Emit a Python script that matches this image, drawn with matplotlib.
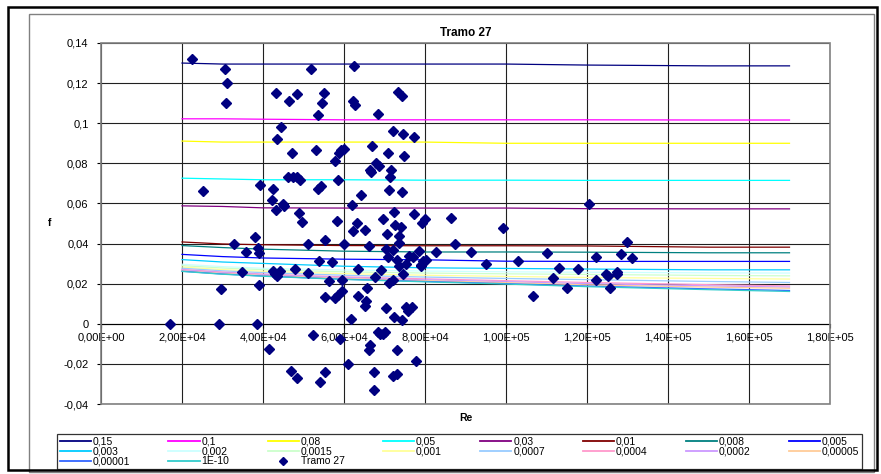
import matplotlib
matplotlib.use("Agg")
import matplotlib.pyplot as plt
from matplotlib.patches import Rectangle

plt.rcParams['font.family'] = ['Liberation Sans', 'DejaVu Sans']

# Reynolds numbers where the friction curves were sampled
re_grid = [20000, 30000, 40000, 60000, 80000, 100000, 120000, 150000, 170000]

# friction factor curves, one per relative roughness
roughness = ['0,15', '0,1', '0,08', '0,05', '0,03', '0,01', '0,008', '0,005',
             '0,003', '0,002', '0,0015', '0,001', '0,0007', '0,0004', '0,0002',
             '0,00005', '0,00001', '1E-10']
f_015 = [0.1300, 0.1295, 0.1295, 0.1295, 0.1295, 0.1295, 0.1290, 0.1286, 0.1286]
f_01 = [0.1022, 0.1022, 0.1020, 0.1017, 0.1017, 0.1017, 0.1017, 0.1016, 0.1016]
f_008 = [0.0911, 0.0906, 0.0906, 0.0906, 0.0906, 0.0900, 0.0900, 0.0900, 0.0900]
f_005 = [0.0726, 0.0722, 0.0718, 0.0718, 0.0716, 0.0716, 0.0715, 0.0715, 0.0715]
f_003 = [0.0588, 0.0585, 0.0578, 0.0577, 0.0577, 0.0577, 0.0574, 0.0573, 0.0573]
f_001 = [0.0408, 0.0398, 0.0394, 0.0390, 0.0389, 0.0389, 0.0388, 0.0382, 0.0382]
f_0008 = [0.0390, 0.0380, 0.0372, 0.0362, 0.0358, 0.0358, 0.0357, 0.0354, 0.0354]
f_0005 = [0.0346, 0.0335, 0.0328, 0.0322, 0.0319, 0.0312, 0.0311, 0.0311, 0.0311]
f_0003 = [0.0320, 0.0308, 0.0301, 0.0287, 0.0279, 0.0276, 0.0273, 0.0269, 0.0269]
f_0002 = [0.0297, 0.0285, 0.0277, 0.0268, 0.0263, 0.0259, 0.0257, 0.0254, 0.0253]
f_00015 = [0.0290, 0.0278, 0.0270, 0.0259, 0.0253, 0.0249, 0.0246, 0.0241, 0.0239]
f_0001 = [0.0283, 0.0270, 0.0262, 0.0250, 0.0242, 0.0236, 0.0231, 0.0226, 0.0223]
f_00007 = [0.0277, 0.0264, 0.0255, 0.0242, 0.0233, 0.0226, 0.0220, 0.0211, 0.0206]
f_00004 = [0.0271, 0.0258, 0.0248, 0.0234, 0.0224, 0.0215, 0.0206, 0.0195, 0.0189]
f_00002 = [0.0268, 0.0255, 0.0245, 0.0230, 0.0219, 0.0210, 0.0200, 0.0189, 0.0183]
f_000005 = [0.0264, 0.0251, 0.0241, 0.0226, 0.0215, 0.0205, 0.0194, 0.0183, 0.0177]
f_000001 = [0.0262, 0.0248, 0.0238, 0.0222, 0.0211, 0.0200, 0.0188, 0.0174, 0.0166]
f_smooth = [0.0261, 0.0247, 0.0237, 0.0221, 0.0209, 0.0198, 0.0185, 0.0170, 0.0161]

curves = [f_015, f_01, f_008, f_005, f_003, f_001, f_0008, f_0005, f_0003,
          f_0002, f_00015, f_0001, f_00007, f_00004, f_00002, f_000005,
          f_000001, f_smooth]
colors = ['#000080', '#FF00FF', '#FFFF00', '#00FFFF', '#800080', '#800000',
          '#008080', '#0000FF', '#00CCFF', '#CCFFFF', '#CCFFCC', '#FFFF99',
          '#99CCFF', '#FF99CC', '#CC99FF', '#FFCC99', '#3366FF', '#33CCCC']

# measured points of Tramo 27 (Re, f)
tramo_re = [17100, 22500, 25200, 29200, 29700, 30700, 31000, 30800, 32800, 34800,
            35700, 38100, 38500, 38700, 38900, 39000, 39200, 41500, 42300, 42400,
            42500, 43000, 43100, 43300, 43500, 43500, 44100, 44400, 44900, 45300,
            46100, 46500, 47000, 47100, 47400, 48000, 48500, 48500, 48500, 48900,
            49100, 49700, 51200, 51200, 51800, 52300, 53100, 53500, 53500, 53900,
            54100, 54300, 54600, 55100, 55200, 55400, 55400, 56200, 57000, 57700,
            57900, 58300, 58400, 58500, 58700, 58900, 59300, 59400, 59400, 59900,
            60000, 61000, 61800, 62000, 62100, 62200, 62400, 62800, 63300, 63500,
            63500, 64100, 65100, 65100, 65500, 65700, 66100, 66200, 66300, 66300,
            66600, 66900, 67300, 67500, 67700, 68000, 68400, 68500, 68700, 69000,
            69100, 69600, 69600, 70200, 70300, 70400, 70600, 70800, 70900, 71100,
            71100, 71400, 71500, 72000, 72000, 72100, 72200, 72400, 72400, 72500,
            73000, 73100, 73200, 73400, 73500, 73600, 73600, 74000, 74300, 74400,
            74400, 74600, 74600, 74800, 75400, 75400, 75700, 76100, 76900, 77100,
            77400, 77400, 77800, 78400, 78900, 79100, 79200, 79600, 80100, 80200,
            82800, 86400, 87400, 91400, 95100, 99200, 102900, 106600, 110100, 111700,
            113100, 115000, 117700, 120600, 122100, 122100, 124700, 125100, 125600, 127300,
            127400, 128500, 129800, 131000]
tramo_f = [0.0000, 0.1320, 0.0660, 0.0000, 0.0171, 0.1270, 0.1200, 0.1100, 0.0397, 0.0258,
           0.0357, 0.0435, 0.0000, 0.0377, 0.0352, 0.0191, 0.0694, -0.0126, 0.0618, 0.0261,
           0.0670, 0.0249, 0.1150, 0.0567, 0.0920, 0.0236, 0.0261, 0.0980, 0.0595, 0.0585,
           0.0730, 0.1110, -0.0233, 0.0850, 0.0733, 0.0274, 0.1145, 0.0734, -0.0271, 0.0552,
           0.0718, 0.0508, 0.0397, 0.0254, 0.1270, -0.0055, 0.0864, 0.1040, 0.0670, 0.0314,
           -0.0291, 0.0686, 0.1100, 0.1150, 0.0133, 0.0419, -0.0240, 0.0213, 0.0308, 0.0810,
           0.0131, 0.0513, 0.0145, 0.0715, 0.0850, -0.0076, 0.0864, 0.0218, 0.0163, 0.0397,
           0.0871, -0.0201, 0.0023, 0.0593, 0.0465, 0.1113, 0.1286, 0.1090, 0.0502, 0.0274,
           0.0140, 0.0640, 0.0470, 0.0090, 0.0116, 0.0179, -0.0133, 0.0387, 0.0768, -0.0108,
           0.0756, 0.0886, -0.0240, -0.0329, 0.0233, 0.0804, -0.0041, 0.1048, 0.0789, -0.0050,
           0.0266, 0.0523, -0.0050, -0.0041, 0.0375, 0.0078, 0.0447, 0.0334, 0.0850, 0.0668,
           0.0203, 0.0733, 0.0768, 0.0369, 0.0219, -0.0259, 0.0959, 0.0555, 0.0032, 0.0495,
           0.0319, -0.0133, -0.0249, 0.1155, 0.0440, 0.0405, 0.0286, 0.0485, 0.0655, 0.1137,
           0.0017, 0.0947, 0.0248, 0.0835, 0.0299, 0.0083, 0.0066, 0.0339, 0.0086, 0.0334,
           0.0932, 0.0545, -0.0186, 0.0364, 0.0294, 0.0286, 0.0502, 0.0311, 0.0523, 0.0319,
           0.0360, 0.0528, 0.0397, 0.0359, 0.0296, 0.0477, 0.0311, 0.0138, 0.0354, 0.0226,
           0.0279, 0.0179, 0.0274, 0.0598, 0.0334, 0.0218, 0.0248, 0.0239, 0.0179, 0.0249,
           0.0259, 0.0350, 0.0407, 0.0327]

x_ticks = [0, 20000, 40000, 60000, 80000, 100000, 120000, 140000, 160000, 180000]
x_labels = ['0,00E+00', '2,00E+04', '4,00E+04', '6,00E+04', '8,00E+04',
            '1,00E+05', '1,20E+05', '1,40E+05', '1,60E+05', '1,80E+05']
y_ticks = [-0.04, -0.02, 0, 0.02, 0.04, 0.06, 0.08, 0.1, 0.12, 0.14]
y_labels = ['-0,04', '-0,02', '0', '0,02', '0,04', '0,06', '0,08', '0,1', '0,12', '0,14']

W, H = 881, 474
fig = plt.figure(figsize=(W / 100, H / 100), dpi=100)
ax = fig.add_axes([101 / W, 1 - 404 / H, 729 / W, 361 / H])

handles = []
for vals, col, lab in zip(curves, colors, roughness):
    h, = ax.plot(re_grid, vals, color=col, lw=0.9, label=lab, zorder=3)
    handles.append(h)
pts, = ax.plot(tramo_re, tramo_f, linestyle='none', marker='D', ms=4.7,
               color='#000080', label='Tramo 27', zorder=5)
handles.append(pts)

ax.set_xlim(0, 180000)
ax.set_ylim(-0.04, 0.14)

# value axis crosses at f = 0, like the spreadsheet chart
for s in ['top', 'right', 'left']:
    ax.spines[s].set_visible(False)
ax.spines['bottom'].set_position(('data', 0))
ax.spines['bottom'].set_color('black')
ax.spines['bottom'].set_linewidth(0.8)

ax.set_xticks(x_ticks)
ax.set_xticklabels(x_labels)
ax.set_yticks(y_ticks)
ax.set_yticklabels(y_labels)
ax.tick_params(axis='both', length=3, width=0.8, color='black', labelsize=8)
ax.tick_params(axis='x', pad=3)
ax.tick_params(axis='y', pad=6)
ax.grid(True, color='#202020', lw=0.8, zorder=1)
ax.set_axisbelow(True)
ax.add_patch(Rectangle((0, 0), 1, 1, transform=ax.transAxes, fill=False,
                       ec='#808080', lw=1.2, clip_on=False, zorder=6))

ax.set_title('Tramo 27', fontsize=8.5, fontweight='bold', pad=5)
ax.text(0.5, -0.04, 'Re', transform=ax.transAxes, ha='center', va='center',
        fontsize=7.5, fontweight='bold')
ax.text(-0.07, 0.5, 'f', transform=ax.transAxes, ha='center', va='center',
        fontsize=7.5, fontweight='bold')

# legend filled row by row: 8 columns, 3 rows
order = []
for j in range(8):
    for r in range(3):
        k = j + 8 * r
        if k < len(handles):
            order.append(k)
leg = fig.legend([handles[k] for k in order], [handles[k].get_label() for k in order],
                 ncol=8, loc='lower left', mode='expand',
                 bbox_to_anchor=(57 / W, 1 - 469 / H, 805 / W, 38 / H),
                 fontsize=7.5, handlelength=3.0, handletextpad=0.2,
                 labelspacing=0.0, borderpad=0.25, columnspacing=0.5,
                 markerscale=0.8, fancybox=False, frameon=True, borderaxespad=0)
leg.get_frame().set_edgecolor('black')
leg.get_frame().set_linewidth(0.9)
for lh in leg.get_lines():
    lh.set_linewidth(1.3)

# chart area borders
fig.add_artist(Rectangle((29 / W, 1 - 472 / H), 845 / W, 458 / H,
                         transform=fig.transFigure, fill=False, ec='#808080', lw=1.0))
fig.add_artist(Rectangle((8 / W, 1 - 470 / H), 869 / W, 463 / H,
                         transform=fig.transFigure, fill=False, ec='black', lw=1.8))

fig.savefig('out.png', dpi=100)
